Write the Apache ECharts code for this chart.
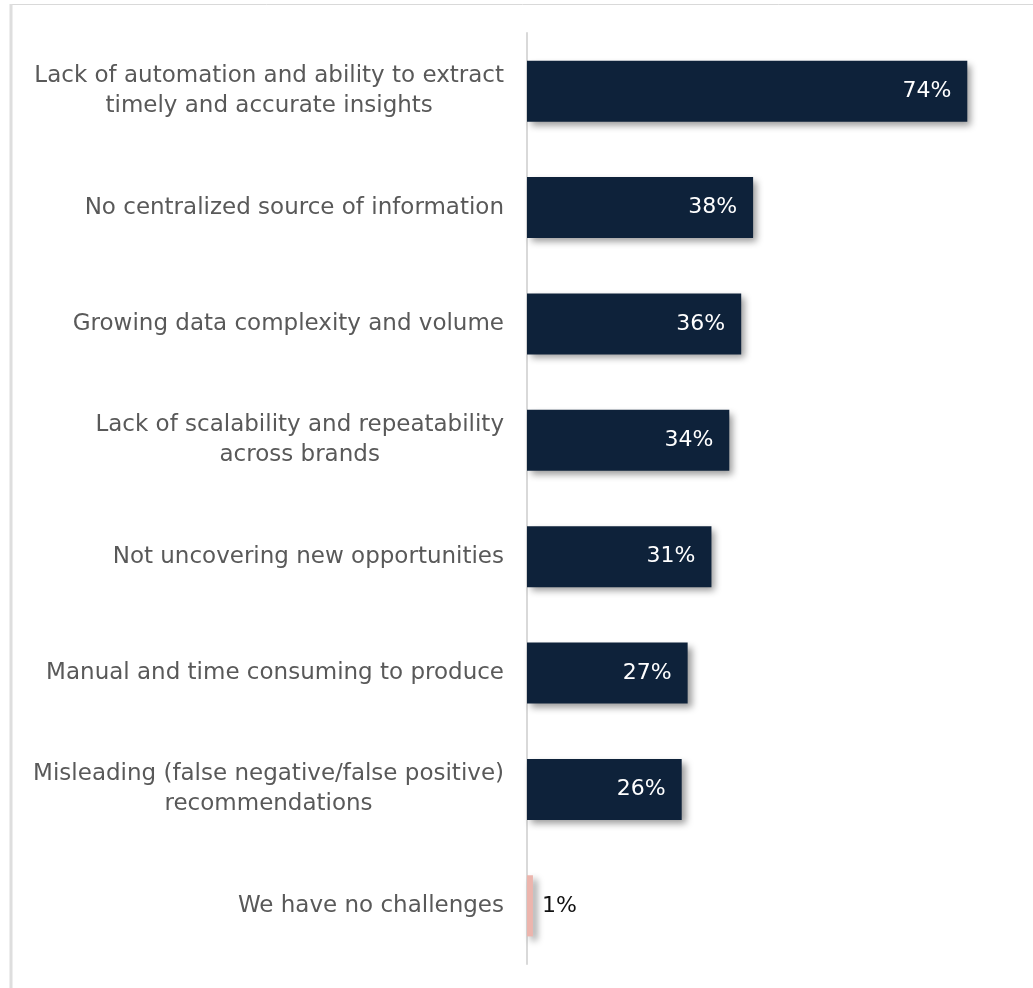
<!DOCTYPE html>
<html>
<head>
<meta charset="utf-8">
<style>
  html, body { margin: 0; padding: 0; background: #ffffff; }
  #chart { width: 1033px; height: 988px; }
</style>
<script src="https://cdn.jsdelivr.net/npm/echarts@6/dist/echarts.min.js"></script>
</head>
<body>
<div id="chart"></div>
<script>
// Challenges, listed top to bottom
const categories = [
  'Lack of automation and ability to extract\ntimely and accurate insights',
  'No centralized source of information',
  'Growing data complexity and volume',
  'Lack of scalability and repeatability\nacross brands',
  'Not uncovering new opportunities',
  'Manual and time consuming to produce',
  'Misleading (false negative/false positive)\nrecommendations',
  'We have no challenges'
];
// Share of respondents, percent
const values = [74, 38, 36, 34, 31, 27, 26, 1];
const barColors = ['#0e223a', '#0e223a', '#0e223a', '#0e223a', '#0e223a', '#0e223a', '#0e223a', '#ecb5ad'];

const FONT = 'DejaVu Sans';

const chart = echarts.init(document.getElementById('chart'), null, { renderer: 'canvas' });

const seriesData = values.map((v, i) => {
  const last = v < 5;
  return {
    value: v,
    itemStyle: { color: barColors[i] },
    label: last
      ? { position: 'right', distance: 9, color: '#111111', fontFamily: FONT, fontSize: 22 }
      : { position: 'insideRight', distance: 16, color: '#ffffff', fontFamily: FONT, fontSize: 22 }
  };
});

chart.setOption({
  animation: false,
  backgroundColor: '#ffffff',
  graphic: [
    // frame around the panel
    { type: 'line', shape: { x1: 11, y1: 4.5, x2: 1040, y2: 4.5 }, style: { stroke: '#d9d9d9', lineWidth: 1 } },
    { type: 'line', shape: { x1: 11, y1: 4, x2: 11, y2: 1000 }, style: { stroke: '#dedede', lineWidth: 3 } }
  ],
  grid: { left: 527, right: 30, top: 33, bottom: 24, containLabel: false },
  xAxis: {
    type: 'value',
    min: 0,
    max: 80,
    show: false
  },
  yAxis: {
    type: 'category',
    inverse: true,
    data: categories,
    axisLine: { show: true, lineStyle: { color: '#d9d9d9', width: 2 } },
    axisTick: { show: false },
    axisLabel: {
      margin: 23,
      formatter: (value) => value.split('\n').map(line => '{c|' + line + '}').join('\n'),
      rich: {
        c: { align: 'center', fontFamily: FONT, fontSize: 23, color: '#595959', lineHeight: 30 }
      }
    }
  },
  series: [{
    type: 'bar',
    data: seriesData,
    barCategoryGap: '47.5%',
    itemStyle: {
      shadowColor: 'rgba(0,0,0,0.4)',
      shadowBlur: 7,
      shadowOffsetX: 4,
      shadowOffsetY: 4
    },
    label: {
      show: true,
      fontFamily: FONT,
      fontSize: 22,
      formatter: (p) => p.value + '%'
    }
  }]
});
</script>
</body>
</html>
